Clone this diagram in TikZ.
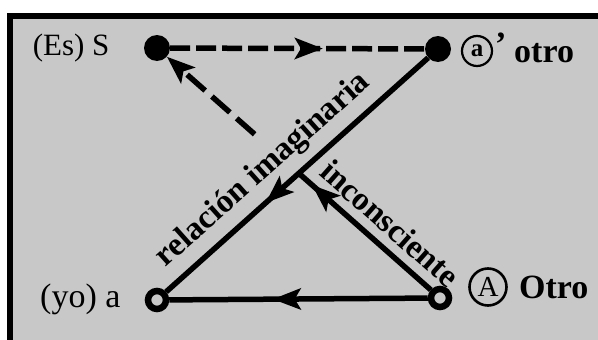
\documentclass[tikz,border=0pt]{standalone}
\usepackage{fontspec}
\setmainfont{Liberation Serif}
\usetikzlibrary{arrows.meta,decorations.markings,calc}
\definecolor{bg}{RGB}{200,200,200}
\begin{document}
\begin{tikzpicture}[x=1pt,y=-1pt,
  dot/.style={circle,fill=black,inner sep=0pt,minimum size=26pt},
  ring/.style={circle,draw=black,fill=bg,line width=6.5pt,inner sep=0pt,minimum size=18pt},
  solidline/.style={line width=5.5pt},
  dashline/.style={line width=5.5pt,dash pattern=on 20pt off 6pt},
  longdash/.style={line width=5.5pt,dash pattern=on 24pt off 9pt},
  bigtip/.tip={Stealth[length=28pt,width=21pt,inset=6pt]},
  midarrow/.style={postaction={decorate},decoration={markings,mark=at position #1 with {\arrow{bigtip}}}},
  lab/.style={font=\fontsize{34}{36}\selectfont},
  blab/.style={font=\fontsize{34}{36}\selectfont\bfseries},
  diag/.style={font=\fontsize{33}{35}\selectfont\bfseries},
]
\useasboundingbox (0,0) rectangle (598,340);
\fill[white] (0,0) rectangle (598,340);
\fill[black] (7,13) rectangle (598,340);
\fill[bg] (13,19) rectangle (598,340);

% points
\node[dot] (S) at (157,48) {};
\node[dot] (ap) at (438,49) {};
\node[ring] (a) at (157,300) {};
\node[ring] (A) at (440,298) {};

\coordinate (X) at (intersection of A.center--S.center and ap.center--a.center);
\coordinate (D) at ($(A.center)!0.655!(S.center)$);

% connectors
\draw[dashline, midarrow=0.6] (S) -- (ap);
\draw[solidline, midarrow=0.62] (ap) -- (a);
\draw[solidline, midarrow=0.6] (A) -- (a);
\draw[solidline, midarrow=0.9] (A) -- (X);
\draw[longdash, -{bigtip}] (D) -- (S);

% diagonal labels
\path (a.center) -- (ap.center) node[diag, sloped, pos=0.44, yshift=26pt] (lri) {relación imaginaria};
\path (X) -- (A.center) node[diag, sloped, pos=0.54, yshift=23pt] (linc) {inconsciente};

% corner labels
\node[lab, anchor=base east, font=\fontsize{31}{33}\selectfont] (les) at (113,55) {(Es) S};
\node[lab, anchor=base east] (lyo) at (124,307) {(yo) a};

\node[circle,draw,line width=2.2pt,minimum size=30pt,inner sep=0pt,font=\fontsize{25}{25}\selectfont\bfseries] (ca) at (477,51) {a};
\node[blab, anchor=base west, inner sep=0pt] (pr) at (495,56) {'};
\node[blab, anchor=base west, inner sep=0pt] (lotro) at (514,62) {otro};

\node[circle,draw,line width=2.6pt,minimum size=37pt,inner sep=0pt,font=\fontsize{29}{29}\selectfont] (cA) at (488,287) {A};
\node[blab, anchor=base west, inner sep=0pt] (lOtro) at (519,298) {Otro};
\end{tikzpicture}
\end{document}
